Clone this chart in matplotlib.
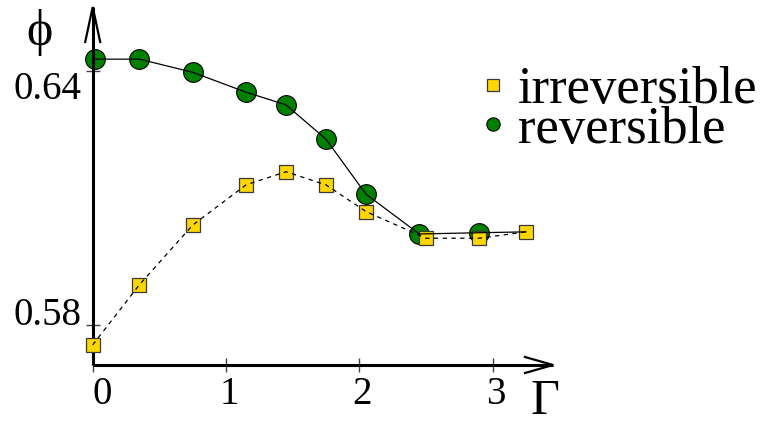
import matplotlib
matplotlib.use("Agg")
import matplotlib.pyplot as plt
from matplotlib.lines import Line2D
from matplotlib.transforms import ScaledTranslation

# Packing fraction phi versus tapping intensity Gamma
gamma_rev = [0.02, 0.35, 0.75, 1.15, 1.45, 1.75, 2.05, 2.45, 2.90, 3.25]
phi_rev = [0.6428, 0.6428, 0.6397, 0.6350, 0.6320, 0.6239, 0.6109, 0.6015, 0.6018, 0.6020]

gamma_irr = [0.00, 0.35, 0.75, 1.15, 1.45, 1.75, 2.05, 2.50, 2.90, 3.25]
phi_irr = [0.5753, 0.5895, 0.6036, 0.6131, 0.6162, 0.6131, 0.6068, 0.6005, 0.6005, 0.6020]

x_ticks = [0, 1, 2, 3]
x_ticklabels = ["0", "1", "2", "3"]
y_ticks = [0.58, 0.64]
y_ticklabels = ["0.58", "0.64"]
series_labels = ["irreversible", "reversible"]

plt.rcParams["font.family"] = ["Liberation Serif", "DejaVu Serif"]

W, H, DPI = 7.74, 4.25, 100
fig = plt.figure(figsize=(W, H), dpi=DPI)
fig.patch.set_facecolor("white")

# axes box in pixels
x0, x1 = 92.7, 553.0
y_bot, y_top = 365.0, 7.0
ax = fig.add_axes([x0 / 774, (425 - y_bot) / 425, (x1 - x0) / 774, (y_bot - y_top) / 425])
ax.set_xlim(0, 3.453)
ax.set_ylim(0.57055, 0.65512)

green = "#008000"
gold = "#FFD700"

# markers first, curves drawn over them
ax.plot(gamma_rev, phi_rev, linestyle="none", marker="o", ms=14.2,
        mfc=green, mec="black", mew=0.8, markevery=slice(0, 9), zorder=2, clip_on=False)
ax.plot(gamma_irr, phi_irr, linestyle="none", marker="s", ms=9.8,
        mfc=gold, mec="#3a3a3a", mew=0.9, zorder=3, clip_on=False)
ax.plot(gamma_rev, phi_rev, color="black", lw=0.9, zorder=4, clip_on=False)
ax.plot(gamma_irr, phi_irr, color="black", lw=0.9, linestyle=(0, (3.5, 3.5)),
        zorder=4, clip_on=False)

# axis lines with open arrowheads
for s in ("top", "right"):
    ax.spines[s].set_visible(False)
for s in ("left", "bottom"):
    ax.spines[s].set_linewidth(2.2)
    ax.spines[s].set_capstyle("butt")

def arrowhead(anchor, pts):
    tr = fig.dpi_scale_trans + ScaledTranslation(anchor[0], anchor[1], ax.transAxes)
    xs = [p[0] / DPI for p in pts]
    ys = [p[1] / DPI for p in pts]
    ln = Line2D(xs, ys, transform=tr, color="black", lw=1.6, clip_on=False,
                solid_joinstyle="miter")
    ax.add_line(ln)

arrowhead((1, 0), [(-28, 8), (0, 0), (-28, -8)])
arrowhead((0, 1), [(-7.5, -35), (0, 0), (7.5, -35)])

ax.set_xticks(x_ticks)
ax.set_xticklabels(x_ticklabels)
ax.set_yticks(y_ticks)
ax.set_yticklabels(y_ticklabels)
ax.tick_params(direction="inout", length=9.5, width=1.0, color="#444444",
               labelsize=28, pad=3)
ax.tick_params(axis="y", pad=3)

for lab in ax.get_xticklabels():
    dx = 9 if lab.get_text() == "0" else 3
    lab.set_transform(lab.get_transform() + ScaledTranslation(dx / DPI, 0, fig.dpi_scale_trans))
ylabs = ax.get_yticklabels()
ylabs[0].set_va("baseline")
ylabs[1].set_va("top")

# axis names
fig.text(39 / 774, 1 - 33 / 425, "\u03d5", ha="center", va="center", fontsize=36)
fig.text(545 / 774, 1 - 402 / 425, "\u0393", ha="center", va="center", fontsize=36)

# legend
handles = [
    Line2D([], [], linestyle="none", marker="s", ms=8.6, mfc=gold, mec="#3a3a3a", mew=0.9),
    Line2D([], [], linestyle="none", marker="o", ms=9.6, mfc=green, mec="black", mew=0.8),
]
leg = fig.legend(handles, series_labels, loc="center left",
                 bbox_to_anchor=(478 / 774, 1 - 110 / 425), frameon=False,
                 fontsize=38, handlelength=0.55, handletextpad=0.2,
                 labelspacing=-0.16, borderpad=0, borderaxespad=0)

fig.savefig("out.png", dpi=DPI, facecolor="white")
